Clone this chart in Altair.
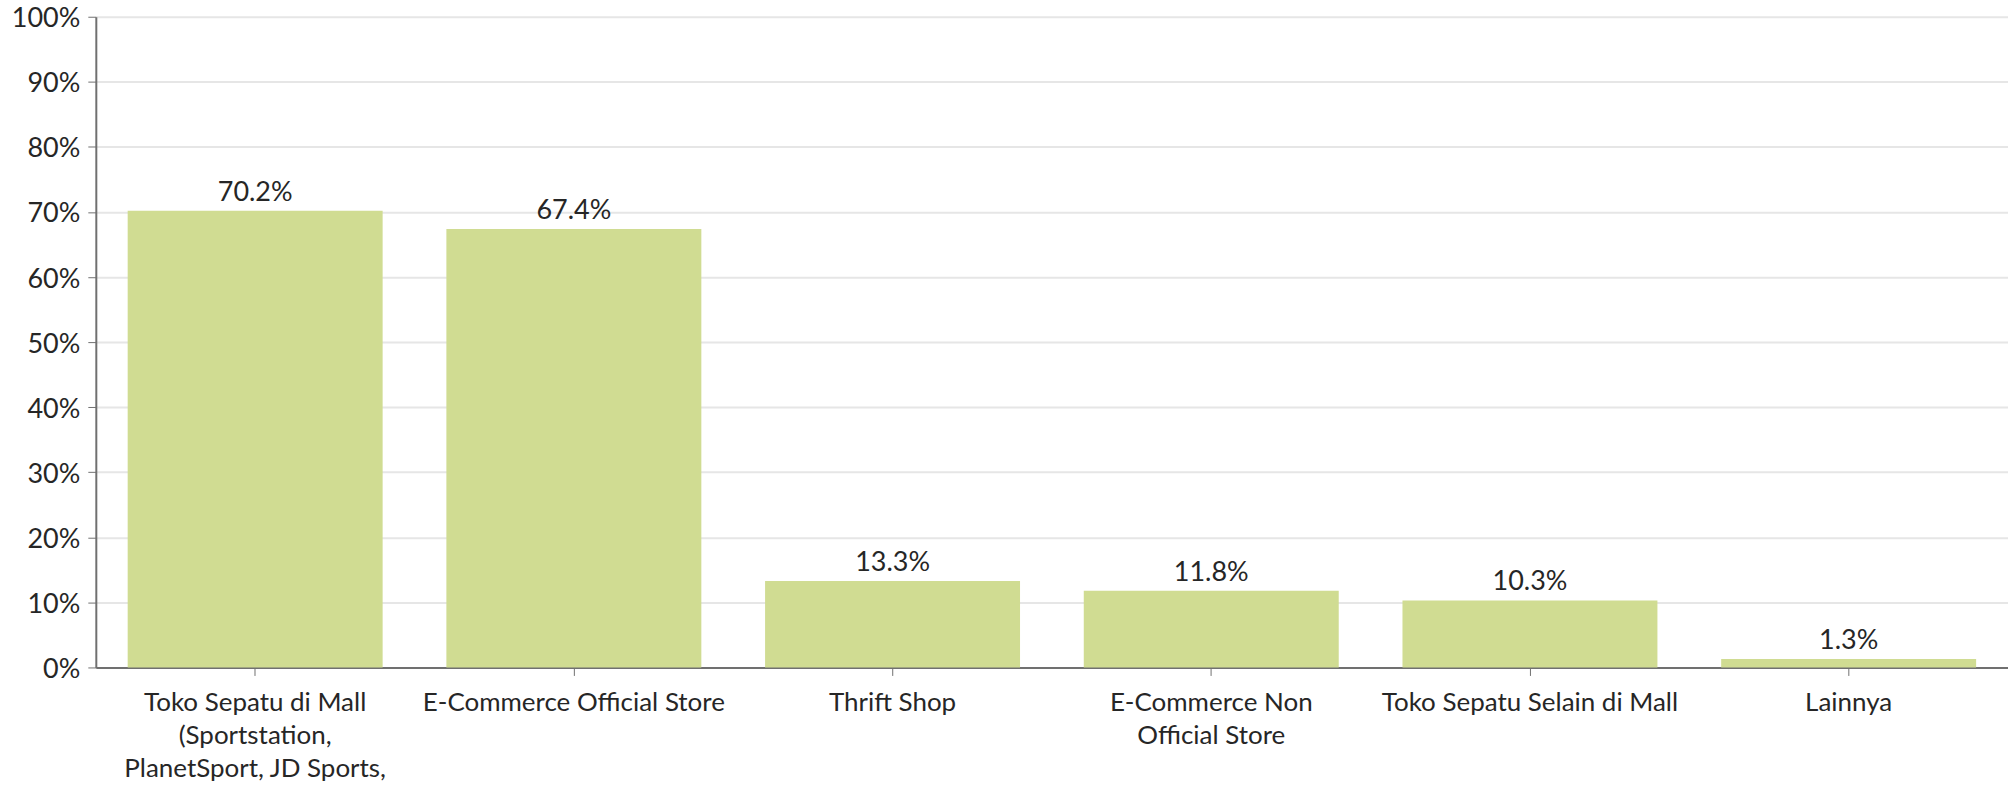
import altair as alt
import pandas as pd

categories = [
    "Toko Sepatu di Mall\n(Sportstation,\nPlanetSport, JD Sports,",
    "E-Commerce Official Store",
    "Thrift Shop",
    "E-Commerce Non\nOfficial Store",
    "Toko Sepatu Selain di Mall",
    "Lainnya",
]
values = [70.2, 67.4, 13.3, 11.8, 10.3, 1.3]

df = pd.DataFrame({"cat": categories, "val": [v / 100 for v in values]})
df["lbl"] = [f"{v:.1f}%" for v in values]

FONT = "Lato"
TXT = "#262626"

x = alt.X(
    "cat:N",
    sort=categories,
    title=None,
    scale=alt.Scale(paddingInner=0.2, paddingOuter=0.1),
    axis=alt.Axis(
        labelExpr="split(datum.label, '\\n')",
        labelAngle=0,
        labelFont=FONT,
        labelFontSize=26,
        labelLineHeight=33,
        labelColor=TXT,
        labelPadding=14,
        labelLimit=500,
        labelBaseline="top",
        tickSize=8,
        tickColor="#707070",
        domainColor="#707070",
        domainWidth=2,
        grid=False,
    ),
)
y = alt.Y(
    "val:Q",
    title=None,
    scale=alt.Scale(domain=[0, 1], nice=False),
    axis=alt.Axis(
        format=".0%",
        values=[i / 10 for i in range(11)],
        labelFont=FONT,
        labelFontSize=27,
        labelColor=TXT,
        labelPadding=8,
        labelOffset=2,
        labelBaseline="middle",
        tickSize=8,
        tickColor="#707070",
        domainColor="#707070",
        domainWidth=2,
        gridColor="#e6e6e6",
        gridWidth=2,
    ),
)

bars = alt.Chart(df).mark_bar(color="#D0DC92").encode(x=x, y=y)
text = alt.Chart(df).mark_text(
    baseline="alphabetic", dy=-10, font=FONT, fontSize=27, color=TXT
).encode(x=alt.X("cat:N", sort=categories), y="val:Q", text="lbl:N")

chart = (
    (bars + text)
    .properties(
        width=1916,
        height=652,
        autosize=alt.AutoSizeParams(type="none"),
        padding={"left": 96, "top": 16, "right": 0, "bottom": 117},
    )
    .configure_view(stroke=None)
)

chart.save("out.html", embed_options={"renderer": "svg", "actions": False})
